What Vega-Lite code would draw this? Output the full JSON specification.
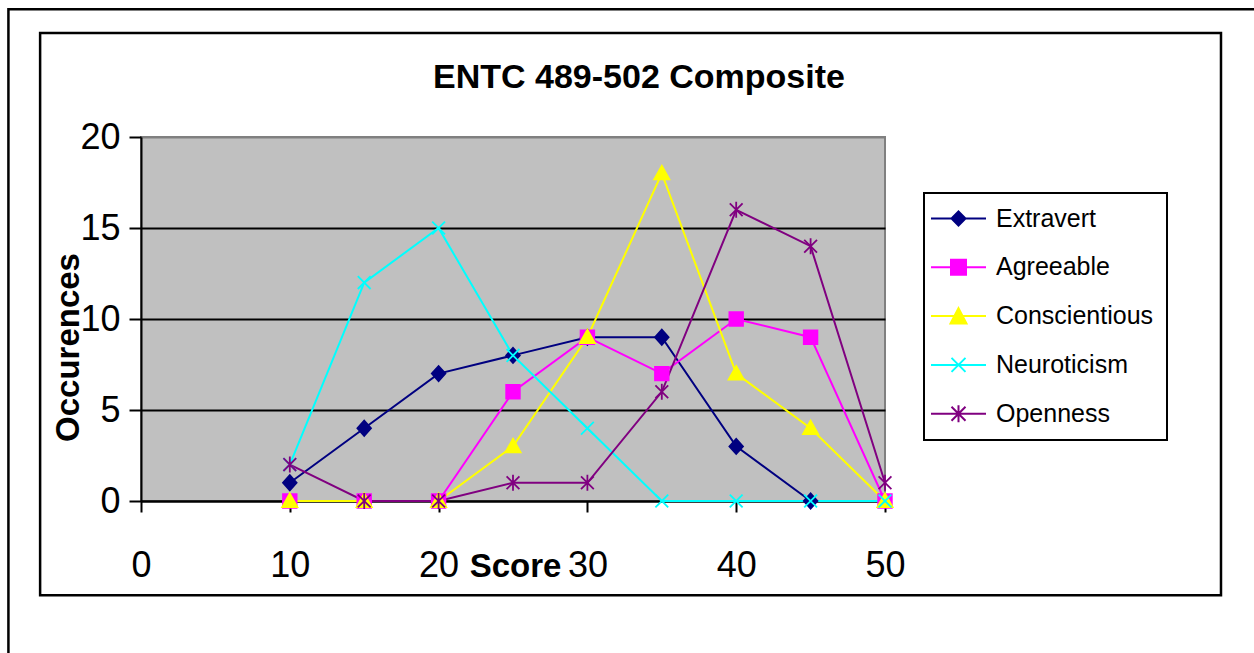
{
  "$schema": "https://vega.github.io/schema/vega-lite/v6.json",
  "width": 744,
  "height": 364,
  "autosize": "none",
  "padding": {"left": 141, "top": 137, "right": 369, "bottom": 152},
  "background": "white",
  "title": {
    "text": "ENTC 489-502 Composite",
    "font": "Liberation Sans",
    "fontSize": 34,
    "fontWeight": "bold",
    "color": "black",
    "anchor": "middle",
    "frame": "group",
    "baseline": "alphabetic",
    "offset": 0,
    "dx": 126,
    "dy": 114
  },
  "data": {
    "values": [
      {"series": "Extravert", "score": 10, "count": 1},
      {"series": "Extravert", "score": 15, "count": 4},
      {"series": "Extravert", "score": 20, "count": 7},
      {"series": "Extravert", "score": 25, "count": 8},
      {"series": "Extravert", "score": 30, "count": 9},
      {"series": "Extravert", "score": 35, "count": 9},
      {"series": "Extravert", "score": 40, "count": 3},
      {"series": "Extravert", "score": 45, "count": 0},
      {"series": "Agreeable", "score": 10, "count": 0},
      {"series": "Agreeable", "score": 15, "count": 0},
      {"series": "Agreeable", "score": 20, "count": 0},
      {"series": "Agreeable", "score": 25, "count": 6},
      {"series": "Agreeable", "score": 30, "count": 9},
      {"series": "Agreeable", "score": 35, "count": 7},
      {"series": "Agreeable", "score": 40, "count": 10},
      {"series": "Agreeable", "score": 45, "count": 9},
      {"series": "Agreeable", "score": 50, "count": 0},
      {"series": "Conscientious", "score": 10, "count": 0},
      {"series": "Conscientious", "score": 15, "count": 0},
      {"series": "Conscientious", "score": 20, "count": 0},
      {"series": "Conscientious", "score": 25, "count": 3},
      {"series": "Conscientious", "score": 30, "count": 9},
      {"series": "Conscientious", "score": 35, "count": 18},
      {"series": "Conscientious", "score": 40, "count": 7},
      {"series": "Conscientious", "score": 45, "count": 4},
      {"series": "Conscientious", "score": 50, "count": 0},
      {"series": "Neuroticism", "score": 10, "count": 2},
      {"series": "Neuroticism", "score": 15, "count": 12},
      {"series": "Neuroticism", "score": 20, "count": 15},
      {"series": "Neuroticism", "score": 25, "count": 8},
      {"series": "Neuroticism", "score": 30, "count": 4},
      {"series": "Neuroticism", "score": 35, "count": 0},
      {"series": "Neuroticism", "score": 40, "count": 0},
      {"series": "Neuroticism", "score": 45, "count": 0},
      {"series": "Neuroticism", "score": 50, "count": 0},
      {"series": "Openness", "score": 10, "count": 2},
      {"series": "Openness", "score": 15, "count": 0},
      {"series": "Openness", "score": 20, "count": 0},
      {"series": "Openness", "score": 25, "count": 1},
      {"series": "Openness", "score": 30, "count": 1},
      {"series": "Openness", "score": 35, "count": 6},
      {"series": "Openness", "score": 40, "count": 16},
      {"series": "Openness", "score": 45, "count": 14},
      {"series": "Openness", "score": 50, "count": 1}
    ]
  },
  "layer": [
    {
      "data": {"values": [{}]},
      "mark": {"type": "rect", "fill": null, "stroke": "black", "strokeWidth": 2.5},
      "encoding": {
        "x": {"datum": -8.91, "type": "quantitative"},
        "x2": {"datum": 80},
        "y": {"datum": 27.02, "type": "quantitative"},
        "y2": {"datum": -10}
      }
    },
    {
      "data": {"values": [{}]},
      "mark": {"type": "rect", "fill": null, "stroke": "black", "strokeWidth": 2.5},
      "encoding": {
        "x": {"datum": -6.78, "type": "quantitative"},
        "x2": {"datum": 72.58},
        "y": {"datum": 25.71, "type": "quantitative"},
        "y2": {"datum": -5.18}
      }
    },
    {
      "mark": {"type": "line", "strokeWidth": 2},
      "encoding": {
        "x": {
          "field": "score", "type": "quantitative",
          "scale": {"domain": [0, 50], "nice": false, "zero": false},
          "axis": {
            "values": [0, 10, 20, 30, 40, 50],
            "title": "Score",
            "grid": false,
            "domainColor": "black", "domainWidth": 2,
            "tickColor": "black", "tickWidth": 2, "tickSize": 11,
            "labelFont": "Liberation Sans", "labelFontSize": 36, "labelColor": "black",
            "labelPadding": 64, "labelBaseline": "alphabetic",
            "labelFlush": false, "labelOverlap": false, "labelBound": false,
            "titleFont": "Liberation Sans", "titleFontSize": 33, "titleFontWeight": "bold", "titleColor": "black",
            "titleX": 374, "titleY": 75, "titleBaseline": "alphabetic", "titleAlign": "center"
          }
        },
        "y": {
          "field": "count", "type": "quantitative",
          "scale": {"domain": [0, 20], "nice": false},
          "axis": {
            "values": [0, 5, 10, 15, 20],
            "title": "Occurences",
            "grid": true,
            "gridColor": {"condition": {"test": "datum.value === 20", "value": "#808080"}, "value": "black"},
            "gridWidth": 2,
            "domainColor": "black", "domainWidth": 2,
            "tickColor": "black", "tickWidth": 2, "tickSize": 12,
            "labelFont": "Liberation Sans", "labelFontSize": 36, "labelColor": "black",
            "labelPadding": 9, "labelBaseline": "middle",
            "labelFlush": false, "labelOverlap": false, "labelBound": false,
            "titleFont": "Liberation Sans", "titleFontSize": 33, "titleFontWeight": "bold", "titleColor": "black",
            "titleAngle": 270, "titleX": -73, "titleY": 210, "titleBaseline": "middle", "titleAlign": "center"
          }
        },
        "color": {
          "field": "series", "type": "nominal",
          "scale": {
            "domain": ["Extravert", "Agreeable", "Conscientious", "Neuroticism", "Openness"],
            "range": ["#000080", "#FF00FF", "#FFFF00", "#00FFFF", "#800080"]
          },
          "legend": null
        }
      }
    },
    {
      "mark": {"type": "point", "filled": true, "size": 256, "strokeWidth": 1.8, "opacity": 1},
      "encoding": {
        "x": {"field": "score", "type": "quantitative"},
        "y": {"field": "count", "type": "quantitative"},
        "fill": {
          "field": "series", "type": "nominal",
          "scale": {
            "domain": ["Extravert", "Agreeable", "Conscientious", "Neuroticism", "Openness"],
            "range": ["#000080", "#FF00FF", "#FFFF00", "#00FFFF", "#800080"]
          },
          "legend": null
        },
        "stroke": {
          "field": "series", "type": "nominal",
          "scale": {
            "domain": ["Extravert", "Agreeable", "Conscientious", "Neuroticism", "Openness"],
            "range": ["#000080", "#FF00FF", "#FFFF00", "#00FFFF", "#800080"]
          },
          "legend": null
        },
        "shape": {
          "field": "series", "type": "nominal",
          "scale": {
            "domain": ["Extravert", "Agreeable", "Conscientious", "Neuroticism", "Openness"],
            "range": [
              "M0,-0.95L0.85,0L0,0.95L-0.85,0Z",
              "M-0.85,-0.85H0.85V0.85H-0.85Z",
              "M0,-0.95L0.95,0.75L-0.95,0.75Z",
              "M-0.8,-0.8L0.8,0.8M0.8,-0.8L-0.8,0.8",
              "M-0.8,-0.8L0.8,0.8M0.8,-0.8L-0.8,0.8M0,-1V1"
            ]
          },
          "legend": null
        }
      }
    },
    {
      "transform": [{"filter": "datum.count < 0"}],
      "mark": {"type": "point", "filled": true, "size": 400, "strokeWidth": 2, "opacity": 1},
      "encoding": {
        "x": {"field": "score", "type": "quantitative"},
        "y": {"field": "count", "type": "quantitative"},
        "color": {
          "field": "series", "type": "nominal",
          "scale": {
            "domain": ["Extravert", "Agreeable", "Conscientious", "Neuroticism", "Openness"],
            "range": ["#000080", "#FF00FF", "#FFFF00", "#00FFFF", "#800080"]
          },
          "legend": {
            "title": null, "orient": "none", "legendX": 783, "legendY": 56,
            "padding": 13, "strokeColor": "black", "fillColor": "white",
            "symbolSize": 400, "symbolStrokeWidth": 2, "symbolOffset": 9,
            "labelOffset": 25, "labelFont": "Liberation Sans", "labelFontSize": 25, "labelColor": "black",
            "labelLimit": 0, "rowPadding": 22.8
          }
        },
        "stroke": {
          "field": "series", "type": "nominal",
          "scale": {
            "domain": ["Extravert", "Agreeable", "Conscientious", "Neuroticism", "Openness"],
            "range": ["#000080", "#FF00FF", "#FFFF00", "#00FFFF", "#800080"]
          },
          "legend": {
            "title": null, "orient": "none", "legendX": 783, "legendY": 56,
            "padding": 13, "strokeColor": "black", "fillColor": "white",
            "symbolSize": 400, "symbolStrokeWidth": 2, "symbolOffset": 9,
            "labelOffset": 25, "labelFont": "Liberation Sans", "labelFontSize": 25, "labelColor": "black",
            "labelLimit": 0, "rowPadding": 22.8
          }
        },
        "shape": {
          "field": "series", "type": "nominal",
          "scale": {
            "domain": ["Extravert", "Agreeable", "Conscientious", "Neuroticism", "Openness"],
            "range": [
              "M-2.75,0H2.75M0,-0.7L0.7,0L0,0.7L-0.7,0Z",
              "M-2.75,0H2.75M-0.75,-0.75H0.75V0.75H-0.75Z",
              "M-2.75,0H2.75M0,-0.8L0.8,0.75L-0.8,0.75Z",
              "M-2.75,0H2.75M-0.7,-0.7L0.7,0.7M0.7,-0.7L-0.7,0.7",
              "M-2.75,0H2.75M-0.7,-0.7L0.7,0.7M0.7,-0.7L-0.7,0.7M0,-0.85V0.85"
            ]
          },
          "legend": {
            "title": null, "orient": "none", "legendX": 783, "legendY": 56,
            "padding": 13, "strokeColor": "black", "fillColor": "white",
            "symbolSize": 400, "symbolStrokeWidth": 2, "symbolOffset": 9,
            "labelOffset": 25, "labelFont": "Liberation Sans", "labelFontSize": 25, "labelColor": "black",
            "labelLimit": 0, "rowPadding": 22.8
          }
        }
      }
    }
  ],
  "resolve": {
    "scale": {"color": "independent", "fill": "independent", "stroke": "independent", "shape": "independent"}
  },
  "config": {
    "font": "Liberation Sans",
    "view": {"fill": "#C0C0C0", "stroke": "#808080", "strokeWidth": 2},
    "legend": {"strokeWidth": 2}
  }
}
